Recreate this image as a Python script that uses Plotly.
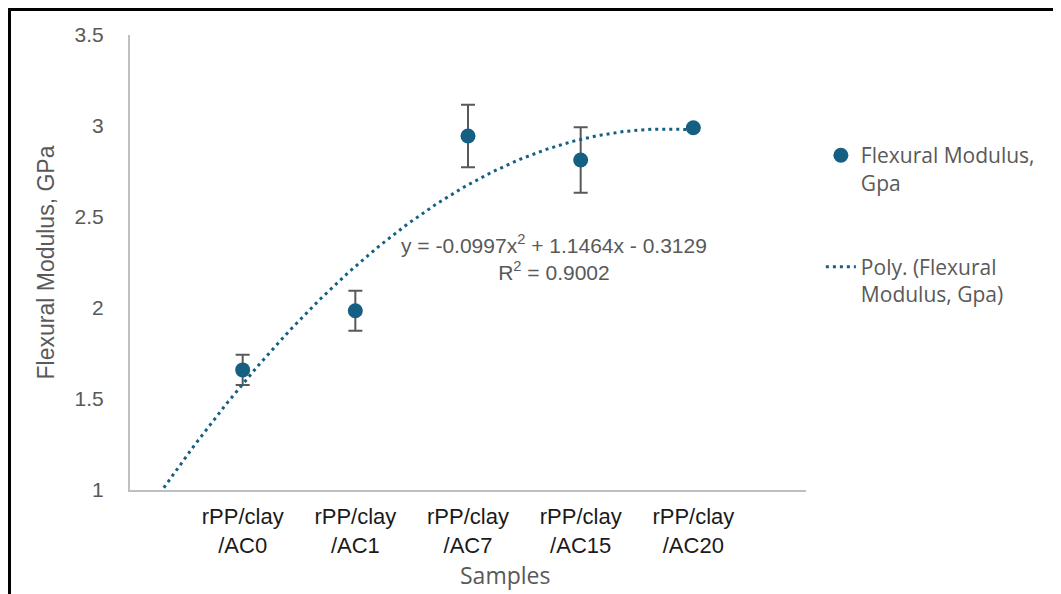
import numpy as np
import plotly.graph_objects as go

samples = ["rPP/clay<br>/AC0", "rPP/clay<br>/AC1", "rPP/clay<br>/AC7", "rPP/clay<br>/AC15", "rPP/clay<br>/AC20"]
x_pos = [1, 2, 3, 4, 5]
modulus = [1.66, 1.985, 2.945, 2.813, 2.99]
modulus_err = [0.083, 0.11, 0.172, 0.18, 0.0]
y_ticks = [1, 1.5, 2, 2.5, 3, 3.5]

BLUE = "#156082"
GRAY = "#595959"

coef = np.polyfit(x_pos, modulus, 2)
xt = np.linspace(0.3, 5, 200)
yt = np.polyval(coef, xt)

# page body has an 8px offset; plot area lands at x 130..806, y 35..490 on screen
ML, MR, MT, MB = 122, 263, 27, 112
PW, PH = 1061 - ML - MR, 594 - MT - MB

fig = go.Figure()
fig.add_trace(go.Scatter(
    x=x_pos, y=modulus, mode="markers",
    name="Flexural Modulus,<br>Gpa", legendgroup="a",
    marker=dict(color=BLUE, size=15),
    error_y=dict(type="data", array=modulus_err, color=GRAY, thickness=2, width=7),
))
fig.add_trace(go.Scatter(
    x=xt, y=yt, mode="lines",
    name="Poly. (Flexural<br>Modulus, Gpa)", legendgroup="b",
    line=dict(color=BLUE, width=3, dash="3px,4px"),
))

fig.update_layout(
    width=1061, height=594,
    margin=dict(l=ML, r=MR, t=MT, b=MB),
    paper_bgcolor="white", plot_bgcolor="white",
    showlegend=True,
    legend=dict(x=1.022, y=0.78, xanchor="left", yanchor="top",
                font=dict(family="Open Sans", size=21, color=GRAY),
                tracegroupgap=54, valign="top"),
    xaxis=dict(range=[0, 6], tickvals=x_pos, ticktext=samples, showgrid=False,
               zeroline=False, showline=True, linecolor="#bfbfbf", linewidth=2,
               ticks="", automargin=False, ticklabelstandoff=6,
               tickfont=dict(family="Liberation Sans", size=22, color="#1a1a1a")),
    yaxis=dict(range=[1, 3.5], tickvals=y_ticks, showgrid=False, zeroline=False,
               showline=True, linecolor="#bfbfbf", linewidth=2, ticks="",
               ticklabelstandoff=20, automargin=False,
               tickfont=dict(family="Liberation Sans", size=21, color=GRAY),
               title=dict(text="Flexural Modulus, GPa", font=dict(family="Liberation Sans", size=23, color=GRAY), standoff=14)),
    annotations=[
        dict(x=3.76, y=2.275, xref="x", yref="y", showarrow=False,
             text="y = -0.0997x<sup>2</sup> + 1.1464x - 0.3129<br>R<sup>2</sup> = 0.9002",
             font=dict(family="Liberation Sans", size=21, color=GRAY), align="center"),
        dict(x=(505 - 130) / PW, y=-(575 - 490) / PH, xref="paper", yref="paper",
             showarrow=False, text="Samples", yanchor="middle",
             font=dict(family="Open Sans", size=23, color=GRAY)),
    ],
    shapes=[
        dict(type="line", xref="paper", yref="paper", x0=(1.5-ML)/PW, x1=(1.5-ML)/PW,
             y0=(PH + MT - 1)/PH, y1=-MB/PH - 0.1, line=dict(color="black", width=3)),
        dict(type="line", xref="paper", yref="paper", x0=(0-ML)/PW, x1=(1061-ML)/PW,
             y0=(PH + MT - 1.5)/PH, y1=(PH + MT - 1.5)/PH, line=dict(color="black", width=3)),
    ],
)
fig.write_html("out.html")
